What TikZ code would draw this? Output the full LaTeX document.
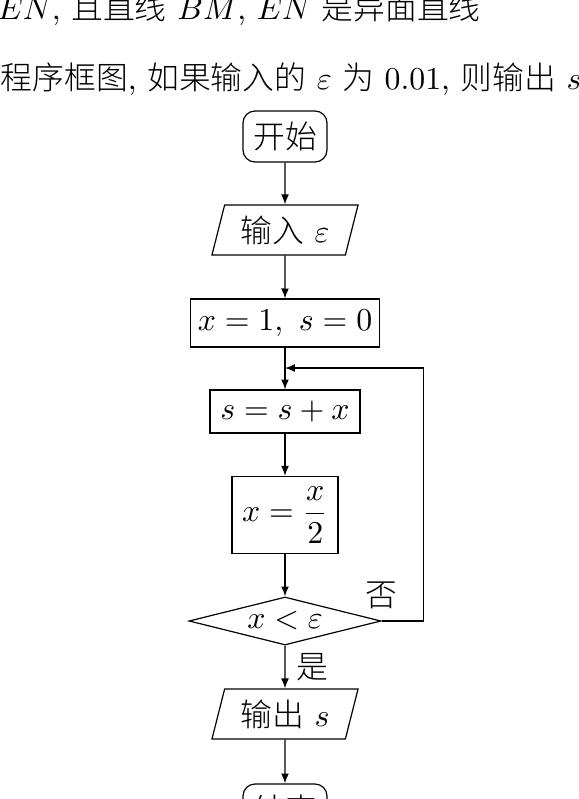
\RequirePackage{fix-cm}
\documentclass[tikz,border=0pt]{standalone}
\usepackage{fontspec}
\usepackage{amsmath,amssymb}
\newfontfamily\cjk{Noto Sans CJK SC Light}
\usetikzlibrary{shapes.geometric,arrows.meta}

\tikzset{
  terminal/.style={rectangle,rounded corners=4pt,draw,minimum width=28pt,minimum height=17pt,inner sep=1pt},
  io/.style={trapezium,trapezium left angle=70,trapezium right angle=110,trapezium stretches body,draw,minimum width=48.7pt,minimum height=16.7pt,inner sep=1pt},
  process/.style={rectangle,draw,inner sep=1pt},
  decision/.style={diamond,draw,aspect=4,minimum width=64pt,minimum height=16pt,inner sep=0pt},
  arrow/.style={-{Latex[length=3.3pt,width=2.6pt]}}
}

\begin{document}
\begin{tikzpicture}[x=0.3333pt,y=-0.3333pt,line width=0.4pt,font=\fontsize{10.6pt}{12.7pt}\selectfont]
    \useasboundingbox (0,0) rectangle (578,799);
    \fill[white] (0,0) rectangle (578,799);
    \clip (0,0) rectangle (578,799);
    % Text above the chart
    \node (line1) at (-3,20) [anchor=base west,inner sep=0pt] {$EN$, {\cjk 且直线} $BM$, $EN$ {\cjk 是异面直线}};
    \node (line2) at (0,89) [anchor=base west,inner sep=0pt] {{\cjk 程序框图}, {\cjk 如果输入的} $\varepsilon$ {\cjk 为} $0.01$, {\cjk 则输出} $s$};
    % Nodes
    \node (start) at (285,136.5) [terminal] {\cjk 开始};
    \node (input) at (285,230) [io] {{\cjk 输入} $\varepsilon$};
    \node (init) at (285,323) [process,minimum width=63pt,minimum height=16pt] {$x=1,\ s=0$};
    \coordinate (loop) at (285,368);
    \node (sum) at (285,411.5) [process,minimum width=50pt,minimum height=14.3pt] {$s=s+x$};
    \node (half) at (285,515) [process,minimum width=35.3pt,minimum height=25.7pt] {$x=\dfrac{x}{2}$};
    \node (cond) at (285,621) [decision] {$x<\varepsilon$};
    \node (output) at (285,714) [io] {{\cjk 输出} $s$};
    \node (stop) at (285,809.5) [terminal] {\cjk 结束};
    % Labels
    \node (no) at (381,595) {\cjk 否};
    \node (yes) at (312,667) {\cjk 是};
    % Edges
    \path[arrow] (start) edge (input);
    \path[arrow] (input) edge (init);
    \path[arrow] (init) edge (sum);
    \path[arrow] (sum) edge (half);
    \path[arrow] (half) edge (cond);
    \path[arrow] (cond) edge (output);
    \path[arrow] (output) edge (stop);
    \draw[arrow] (cond.east) -- ++(42,0) |- (loop);
\end{tikzpicture}
\end{document}
